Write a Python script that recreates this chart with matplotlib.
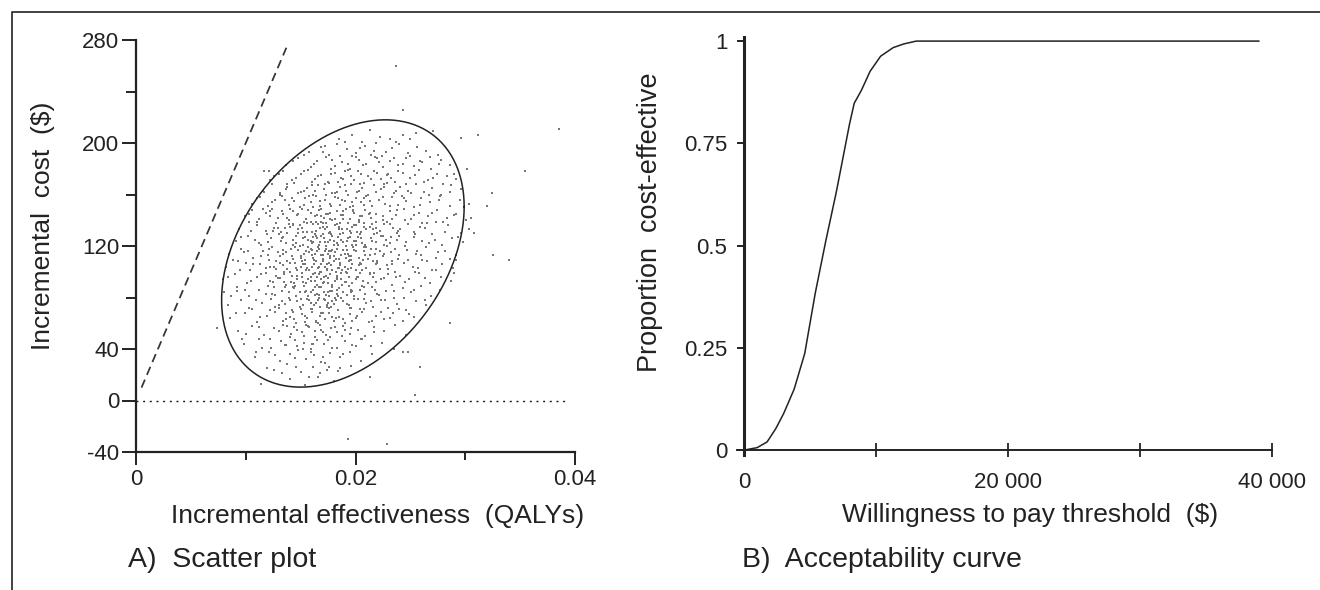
import numpy as np
import matplotlib
matplotlib.use("Agg")
import matplotlib.pyplot as plt
from matplotlib.lines import Line2D

plt.rcParams["font.family"] = ["Liberation Sans", "DejaVu Sans"]

# ---- panel A: bootstrap replicates (effect in 1/1000 QALY, cost in $) ----
cloud_pairs = [
    (18.5, 203), (19.7, 206), (21.3, 210), (22.2, 205), (24.3, 206), (25.5, 208), (20.6, 201), (23.1, 203),
    (15.8, 193), (16.9, 197), (17.6, 191), (18.3, 199), (19.2, 195), (20.0, 192), (20.9, 198), (21.7, 194),
    (22.4, 190), (23.3, 196), (24.0, 199), (24.8, 192), (25.6, 197), (26.4, 194), (27.5, 191), (19.7, 190),
    (13.7, 183), (14.8, 188), (15.9, 181), (16.5, 186), (17.3, 189), (18.1, 182), (18.8, 185), (19.5, 180),
    (20.3, 187), (21.0, 184), (21.8, 189), (22.5, 181), (23.1, 186), (23.9, 183), (24.6, 188), (25.3, 182),
    (26.1, 185), (26.9, 180), (27.8, 187), (28.6, 183), (17.8, 180), (22.0, 188),
    (12.6, 174), (13.4, 178), (14.2, 171), (15.0, 176), (15.7, 179), (16.3, 172), (16.9, 175), (17.5, 170),
    (18.1, 177), (18.7, 173), (19.3, 179), (19.9, 171), (20.5, 176), (21.1, 174), (21.7, 178), (22.3, 172),
    (22.9, 175), (23.6, 170), (24.3, 177), (25.0, 173), (25.8, 179), (26.6, 171), (27.4, 176), (28.3, 174),
    (29.2, 172), (16.0, 170), (19.0, 178), (23.0, 176),
    (11.6, 163), (12.4, 168), (13.1, 161), (13.8, 166), (14.4, 169), (15.0, 162), (15.6, 165), (16.1, 160),
    (16.6, 167), (17.1, 164), (17.6, 169), (18.1, 161), (18.6, 166), (19.1, 163), (19.6, 168), (20.1, 162),
    (20.6, 165), (21.1, 160), (21.7, 167), (22.3, 164), (22.9, 169), (23.5, 161), (24.1, 166), (24.8, 163),
    (25.5, 168), (26.2, 162), (27.0, 165), (27.8, 160), (28.7, 167), (29.6, 164), (17.9, 161), (20.4, 168),
    (22.6, 166), (15.3, 163),
    (10.6, 153), (11.3, 158), (12.0, 151), (12.7, 156), (13.3, 159), (13.9, 152), (14.4, 155), (14.9, 150),
    (15.4, 157), (15.9, 154), (16.4, 159), (16.8, 151), (17.2, 156), (17.7, 153), (18.1, 158), (18.6, 152),
    (19.0, 155), (19.5, 150), (20.0, 157), (20.5, 154), (21.0, 159), (21.5, 151), (22.1, 156), (22.7, 153),
    (23.3, 158), (23.9, 152), (24.6, 155), (25.3, 150), (26.0, 157), (26.8, 154), (27.7, 159), (28.6, 151),
    (29.5, 156), (30.3, 153), (16.1, 150), (18.4, 157), (20.8, 152), (13.6, 156), (24.2, 159), (19.7, 154),
    (9.9, 143), (10.6, 148), (11.2, 141), (11.8, 146), (12.4, 149), (12.9, 142), (13.4, 145), (13.9, 140),
    (14.3, 147), (14.7, 144), (15.1, 149), (15.5, 141), (15.9, 146), (16.3, 143), (16.7, 148), (17.1, 142),
    (17.5, 145), (17.9, 140), (18.3, 147), (18.7, 144), (19.1, 149), (19.5, 141), (19.9, 146), (20.4, 143),
    (20.9, 148), (21.4, 142), (21.9, 145), (22.5, 140), (23.1, 147), (23.7, 144), (24.4, 149), (25.1, 141),
    (25.8, 146), (26.6, 143), (27.4, 148), (28.3, 142), (29.2, 145), (30.1, 140), (14.0, 149), (16.9, 143),
    (18.9, 147), (21.2, 145), (23.3, 141), (12.2, 147), (17.7, 141), (19.8, 148),
    (9.4, 133), (24.8, 137), (13.2, 131), (18.6, 138), (21.9, 134), (11.0, 136), (16.4, 132), (27.3, 139),
    (19.7, 135), (14.8, 130), (22.6, 137), (17.2, 133), (10.3, 139), (20.5, 131), (25.9, 135), (15.6, 138),
    (18.1, 136), (12.5, 132), (23.4, 134), (29.6, 130), (16.9, 139), (19.2, 133), (13.9, 137), (21.3, 135),
    (17.7, 131), (26.5, 138), (15.1, 134), (20.0, 136), (11.8, 132), (22.9, 139), (18.9, 130), (14.3, 137),
    (24.1, 133), (17.4, 135), (20.8, 138), (16.0, 131), (28.4, 136), (12.9, 134), (19.5, 132), (15.9, 139),
    (23.8, 130), (18.3, 137), (21.6, 133), (14.0, 135), (17.0, 138), (25.3, 131), (19.9, 136), (13.6, 134),
    (22.2, 132), (16.6, 137), (20.3, 139), (30.3, 133),
    (9.1, 124), (10.2, 128), (11.4, 121), (12.3, 126), (13.0, 129), (13.7, 122), (14.3, 125), (14.9, 120),
    (15.4, 127), (15.9, 124), (16.3, 129), (16.7, 121), (17.1, 126), (17.5, 123), (17.9, 128), (18.3, 122),
    (18.7, 125), (19.1, 120), (19.5, 127), (19.9, 124), (20.4, 129), (20.9, 121), (21.4, 126), (21.9, 123),
    (22.5, 128), (23.1, 122), (23.8, 125), (24.5, 120), (25.3, 127), (26.1, 124), (27.0, 129), (27.9, 121),
    (28.8, 126), (29.8, 123), (15.2, 121), (16.9, 128), (18.0, 124), (19.3, 126), (20.6, 122), (17.3, 120),
    (14.6, 128), (21.7, 129), (12.0, 123), (18.6, 129), (16.1, 123), (19.7, 121), (22.8, 125), (17.7, 125),
    (13.4, 127), (24.0, 128), (15.7, 125), (20.2, 127), (18.9, 123), (10.8, 125), (26.7, 122), (16.5, 126),
    (8.5, 114), (9.6, 118), (10.7, 111), (11.6, 116), (12.4, 119), (13.1, 112), (13.7, 115), (14.3, 110),
    (14.8, 117), (15.3, 114), (15.7, 119), (16.1, 111), (16.5, 116), (16.9, 113), (17.3, 118), (17.7, 112),
    (18.1, 115), (18.5, 110), (18.9, 117), (19.3, 114), (19.8, 119), (20.3, 111), (20.8, 116), (21.3, 113),
    (21.9, 118), (22.5, 112), (23.2, 115), (23.9, 110), (24.7, 117), (25.5, 114), (26.4, 119), (27.3, 111),
    (28.2, 116), (29.2, 113), (15.0, 111), (16.7, 118), (17.5, 114), (18.3, 118), (19.6, 112), (17.0, 110),
    (14.1, 118), (21.0, 119), (12.0, 113), (18.7, 113), (16.3, 114), (20.0, 116), (22.2, 116), (17.9, 117),
    (13.4, 117), (23.6, 118), (15.5, 116), (19.1, 111), (18.0, 112), (10.2, 116), (26.0, 113), (16.0, 117),
    (8.2, 104), (9.3, 108), (10.4, 101), (11.3, 106), (12.1, 109), (12.8, 102), (13.4, 105), (14.0, 100),
    (14.5, 107), (15.0, 104), (15.4, 109), (15.8, 101), (16.2, 106), (16.6, 103), (17.0, 108), (17.4, 102),
    (17.8, 105), (18.2, 100), (18.6, 107), (19.0, 104), (19.5, 109), (20.0, 101), (20.5, 106), (21.0, 103),
    (21.6, 108), (22.2, 102), (22.9, 105), (23.6, 100), (24.4, 107), (25.2, 104), (26.1, 109), (27.0, 101),
    (27.9, 106), (28.9, 103), (14.7, 101), (16.4, 108), (17.2, 104), (18.0, 108), (19.3, 102), (16.8, 100),
    (13.8, 108), (20.7, 109), (11.8, 103), (18.4, 103), (16.0, 104), (19.7, 106), (21.9, 106), (17.6, 107),
    (13.1, 107), (23.3, 108), (15.2, 106), (18.8, 101), (10.0, 107), (25.7, 103),
    (7.9, 94), (9.0, 98), (10.1, 91), (11.0, 96), (11.8, 99), (12.5, 92), (13.1, 95), (13.7, 90),
    (14.2, 97), (14.7, 94), (15.1, 99), (15.5, 91), (15.9, 96), (16.3, 93), (16.7, 98), (17.1, 92),
    (17.5, 95), (17.9, 90), (18.3, 97), (18.7, 94), (19.2, 99), (19.7, 91), (20.2, 96), (20.7, 93),
    (21.3, 98), (21.9, 92), (22.6, 95), (23.3, 90), (24.1, 97), (24.9, 94), (25.8, 99), (26.8, 91),
    (27.8, 96), (28.7, 93), (14.4, 91), (16.1, 98), (16.9, 94), (17.7, 98), (19.0, 92), (16.5, 90),
    (13.5, 98), (20.4, 99), (12.2, 93), (18.1, 93), (15.7, 94), (19.4, 96), (21.6, 96), (17.3, 97),
    (12.8, 97), (23.0, 98),
    (8.0, 84), (9.2, 88), (10.3, 81), (11.2, 86), (12.0, 89), (12.7, 82), (13.3, 85), (13.9, 80),
    (14.4, 87), (14.9, 84), (15.3, 89), (15.7, 81), (16.1, 86), (16.5, 83), (16.9, 88), (17.3, 82),
    (17.7, 85), (18.1, 80), (18.5, 87), (18.9, 84), (19.4, 89), (19.9, 81), (20.4, 86), (20.9, 83),
    (21.5, 88), (22.1, 82), (22.8, 85), (23.5, 80), (24.3, 87), (25.1, 84), (26.0, 89), (26.9, 81),
    (27.7, 86), (14.6, 81), (16.3, 88), (17.1, 84), (17.9, 88), (19.2, 82), (16.7, 80), (13.6, 88),
    (20.6, 89), (12.4, 83), (18.3, 83), (15.9, 84), (19.6, 86), (21.8, 86),
    (8.4, 74), (9.6, 78), (10.6, 71), (11.5, 76), (12.3, 79), (13.0, 72), (13.6, 75), (14.2, 70),
    (14.7, 77), (15.2, 74), (15.6, 79), (16.0, 71), (16.4, 76), (16.8, 73), (17.2, 78), (17.6, 72),
    (18.0, 75), (18.4, 70), (18.9, 77), (19.4, 74), (19.9, 79), (20.4, 71), (21.0, 76), (21.6, 73),
    (22.3, 78), (23.0, 72), (23.8, 75), (24.6, 70), (25.5, 77), (26.4, 74), (15.0, 71), (16.6, 78),
    (17.4, 74), (18.2, 78), (19.6, 72), (14.0, 78), (20.8, 79), (12.7, 73), (17.8, 73), (16.2, 74),
    (8.6, 64), (9.9, 68), (11.0, 61), (11.9, 66), (12.7, 69), (13.4, 62), (14.0, 65), (14.6, 60),
    (15.1, 67), (15.6, 64), (16.0, 69), (16.4, 61), (16.8, 66), (17.2, 63), (17.6, 68), (18.0, 62),
    (18.5, 65), (19.0, 60), (19.5, 67), (20.0, 64), (20.6, 69), (21.2, 61), (21.9, 66), (22.6, 63),
    (23.4, 68), (24.3, 62), (25.3, 65), (15.4, 61), (17.0, 68), (18.2, 64), (19.7, 62), (13.7, 68),
    (16.6, 60), (14.4, 63),
    (9.3, 54), (10.6, 58), (11.7, 51), (12.6, 56), (13.4, 59), (14.1, 52), (14.7, 55), (15.3, 50),
    (15.8, 57), (16.3, 54), (16.8, 59), (17.3, 51), (17.8, 56), (18.3, 53), (18.9, 58), (19.5, 52),
    (20.2, 55), (20.9, 50), (21.7, 57), (22.6, 54), (23.6, 59), (24.6, 51), (15.5, 59), (17.0, 53),
    (14.4, 57), (19.0, 55),
    (9.8, 44), (11.2, 48), (12.3, 41), (13.2, 46), (14.0, 49), (14.7, 42), (15.3, 45), (15.9, 40),
    (16.5, 47), (17.1, 44), (17.7, 49), (18.3, 41), (19.0, 46), (19.7, 43), (20.5, 48), (21.4, 42),
    (22.4, 45), (23.5, 40), (16.0, 44), (13.7, 43),
    (10.8, 34), (12.1, 38), (13.1, 31), (14.0, 36), (14.8, 39), (15.5, 32), (16.2, 35), (16.9, 30),
    (17.7, 37), (18.6, 34), (19.5, 38), (20.5, 31), (21.5, 36), (15.9, 38),
    (12.6, 24), (13.8, 28), (15.0, 22), (16.1, 26), (17.2, 29), (18.4, 23), (19.6, 27), (16.8, 21),
    (14.0, 17), (15.4, 12), (16.6, 18), (18.0, 15),
]

cloud_pairs_b = [
    (17.2, 198), (19.0, 201), (21.9, 200), (23.7, 201), (20.4, 196), (25.0, 203),
    (14.3, 186), (15.3, 191), (16.2, 184), (17.0, 193), (17.9, 187), (18.6, 190), (19.3, 184), (20.0, 189),
    (20.7, 183), (21.4, 191), (22.1, 185), (22.8, 193), (23.5, 188), (24.3, 184), (25.0, 190), (25.9, 186),
    (26.8, 189), (27.6, 184),
    (12.2, 171), (13.0, 176), (13.8, 168), (14.6, 173), (15.3, 178), (16.0, 167), (16.6, 174), (17.2, 168),
    (17.8, 176), (18.4, 170), (19.0, 167), (19.6, 174), (20.2, 178), (20.8, 169), (21.4, 172), (22.0, 177),
    (22.6, 168), (23.2, 173), (23.9, 178), (24.6, 168), (25.4, 175), (26.2, 170), (27.1, 173), (28.0, 168),
    (29.0, 176), (18.9, 172),
    (11.0, 157), (11.7, 162), (12.4, 154), (13.1, 160), (13.7, 164), (14.2, 157), (14.8, 161), (15.3, 152),
    (15.8, 159), (16.3, 163), (16.8, 155), (17.3, 160), (17.8, 151), (18.3, 162), (18.8, 156), (19.3, 160),
    (19.8, 151), (20.3, 163), (20.8, 157), (21.3, 155), (21.9, 162), (22.5, 158), (23.1, 151), (23.7, 163),
    (24.4, 157), (25.1, 161), (25.9, 152), (26.7, 160), (27.6, 156), (28.6, 162),
    (10.3, 145), (11.0, 139), (11.6, 149), (12.2, 143), (12.8, 138), (13.3, 147), (13.8, 142), (14.3, 136),
    (14.8, 145), (15.3, 139), (15.7, 148), (16.1, 137), (16.5, 144), (16.9, 149), (17.3, 138), (17.7, 146),
    (18.1, 141), (18.5, 135), (18.9, 144), (19.3, 138), (19.8, 147), (20.3, 140), (20.8, 135), (21.3, 146),
    (21.9, 139), (22.5, 143), (23.1, 137), (23.8, 148), (24.5, 140), (25.3, 144), (26.1, 138), (27.0, 146),
    (28.0, 139), (29.0, 144),
    (9.6, 127), (10.5, 132), (11.2, 122), (11.9, 129), (12.6, 134), (13.2, 124), (13.8, 130), (14.3, 121),
    (14.8, 133), (15.2, 126), (15.6, 131), (16.0, 122), (16.4, 128), (16.8, 134), (17.2, 123), (17.6, 130),
    (18.0, 121), (18.4, 127), (18.8, 133), (19.2, 124), (19.6, 130), (20.0, 121), (20.5, 126), (21.0, 133),
    (21.5, 124), (22.0, 130), (22.6, 121), (23.2, 127), (23.9, 132), (24.6, 123), (25.4, 129), (26.3, 134),
    (27.2, 125), (28.2, 131), (29.3, 127), (17.0, 129),
    (8.8, 109), (9.8, 115), (10.7, 106), (11.4, 112), (12.1, 118), (12.8, 108), (13.4, 114), (14.0, 107),
    (14.5, 119), (15.0, 112), (15.4, 106), (15.8, 115), (16.2, 109), (16.6, 119), (17.0, 113), (17.4, 106),
    (17.8, 116), (18.2, 110), (18.6, 105), (19.0, 114), (19.4, 108), (19.9, 117), (20.4, 107), (20.9, 113),
    (21.4, 118), (22.0, 108), (22.6, 114), (23.3, 106), (24.0, 113), (24.8, 109), (25.6, 116), (26.5, 108),
    (27.5, 115), (28.6, 110), (17.2, 116), (19.6, 109),
    (8.4, 96), (9.5, 101), (10.5, 93), (11.4, 98), (12.2, 104), (12.9, 95), (13.5, 100), (14.1, 92),
    (14.6, 103), (15.1, 96), (15.5, 101), (15.9, 93), (16.3, 99), (16.7, 104), (17.1, 96), (17.5, 91),
    (17.9, 101), (18.3, 94), (18.7, 99), (19.1, 92), (19.6, 103), (20.1, 96), (20.6, 101), (21.1, 91),
    (21.7, 99), (22.3, 94), (23.0, 102), (23.7, 96), (24.5, 92), (25.4, 100), (26.3, 95), (27.3, 101),
    (16.9, 100), (18.5, 103),
    (8.7, 81), (9.9, 86), (10.9, 78), (11.8, 83), (12.6, 88), (13.3, 77), (13.9, 84), (14.5, 89),
    (15.0, 79), (15.5, 85), (15.9, 76), (16.3, 82), (16.7, 88), (17.1, 79), (17.5, 84), (17.9, 77),
    (18.3, 86), (18.7, 80), (19.2, 75), (19.7, 85), (20.2, 79), (20.8, 88), (21.4, 77), (22.0, 83),
    (22.7, 78), (23.5, 85), (24.4, 80), (25.3, 86), (26.3, 78), (17.6, 81),
    (9.1, 68), (10.3, 72), (11.3, 65), (12.2, 70), (13.0, 74), (13.7, 63), (14.3, 69), (14.9, 73),
    (15.4, 66), (15.9, 71), (16.4, 62), (16.9, 68), (17.4, 73), (17.9, 65), (18.4, 70), (18.9, 63),
    (19.5, 72), (20.1, 66), (20.8, 71), (21.5, 62), (22.3, 69), (23.1, 64), (24.0, 71), (24.9, 67),
    (10.0, 52), (11.2, 57), (12.2, 48), (13.0, 54), (13.8, 58), (14.5, 47), (15.1, 53), (15.7, 58),
    (16.3, 49), (16.9, 55), (17.5, 47), (18.1, 57), (18.8, 50), (19.6, 56), (20.6, 48), (21.7, 53),
    (11.5, 41), (12.7, 35), (13.6, 43), (14.5, 33), (15.2, 40), (16.1, 44), (17.0, 34), (17.9, 41),
    (18.9, 36), (20.0, 42),
    (13.3, 21), (14.6, 26), (15.8, 18), (17.4, 24),
]

core_pairs = [
    (15.2, 131), (16.1, 127), (17.0, 135), (17.8, 129), (18.5, 133), (19.3, 126), (20.1, 131), (14.6, 122),
    (15.9, 118), (16.8, 123), (17.6, 116), (18.4, 121), (19.2, 117), (20.0, 124), (20.8, 119), (14.2, 112),
    (15.1, 108), (16.0, 113), (16.9, 106), (17.7, 111), (18.6, 107), (19.4, 112), (20.3, 105), (21.1, 110),
    (13.8, 102), (14.7, 97), (15.6, 103), (16.5, 96), (17.4, 101), (18.3, 95), (19.1, 100), (20.0, 94),
    (14.3, 88), (15.2, 92), (16.1, 86), (17.0, 91), (17.9, 85), (18.8, 90), (19.6, 84), (15.8, 78),
    (16.7, 82), (17.5, 76), (18.4, 81), (21.5, 137), (22.3, 128), (21.8, 114), (12.9, 115), (13.3, 126),
    (16.4, 139), (18.9, 141), (20.6, 143), (17.3, 145), (22.9, 120), (15.4, 84), (13.5, 92), (21.3, 99),
    (22.0, 107), (12.6, 104), (19.9, 136), (14.9, 136),
]

outlier_pairs = [
    (23.7, 260), (24.3, 226), (38.5, 211), (31.2, 206), (29.6, 204), (27.1, 209), (35.4, 178), (32.4, 161),
    (32.0, 151), (30.5, 142), (32.5, 113), (34.0, 109), (29.2, 109), (29.0, 99), (28.6, 60), (25.9, 26),
    (24.3, 38), (24.8, 38), (25.4, 4), (19.3, -30), (22.9, -34), (21.3, 18), (11.4, 13), (11.9, 25),
    (7.4, 56), (9.2, 85), (9.7, 48), (10.9, 38), (11.7, 178), (12.1, 178), (17.6, 26), (18.6, 25),
    (30.8, 130), (30.2, 180),
]

# 95% confidence ellipse (centre, half-extents, correlation)
ellipse_center = (0.01885, 114.2)
ellipse_half_x = 0.01105
ellipse_half_y = 103.8
ellipse_corr = 0.35

# ceiling ratio line ($ per QALY) and its drawn extent
ceiling_ratio = 20000
ceiling_x = [0.0005, 0.0137]
zero_line_x = [0.0, 0.0392]

# ---- panel B: cost-effectiveness acceptability curve ----
wtp = [0, 1000, 1750, 2400, 3000, 3800, 4600, 5400, 6200, 7000, 7500, 8000,
       8350, 8900, 9550, 10350, 11300, 12100, 13050, 39000]
prop_ce = [0.0, 0.006, 0.02, 0.052, 0.089, 0.149, 0.236, 0.384, 0.512, 0.632, 0.715, 0.798,
           0.848, 0.88, 0.926, 0.963, 0.984, 0.993, 1.0, 1.0]

W, H = 1320, 590
INK = "#222222"

all_pts = np.array(cloud_pairs + cloud_pairs_b + core_pairs + outlier_pairs, dtype=float)
effect = all_pts[:, 0] / 1000.0
cost = all_pts[:, 1]

fig = plt.figure(figsize=(W / 100, H / 100), dpi=100)
fig.patch.set_facecolor("white")

# ---------------- A) scatter plot ----------------
ax1 = fig.add_axes([136 / W, 1 - 452 / H, 439 / W, 412 / H])
ax1.set_xlim(0, 0.04)
ax1.set_ylim(-40, 280)

ax1.scatter(effect, cost, s=3.3, marker="s", c="#777777", linewidths=0, zorder=2)

t = np.linspace(0, 2 * np.pi, 400)
phi = np.arccos(ellipse_corr)
ex = ellipse_center[0] + ellipse_half_x * np.cos(t)
ey = ellipse_center[1] + ellipse_half_y * np.cos(t - phi)
ax1.plot(ex, ey, color=INK, lw=1.1, zorder=3)

cx = np.array(ceiling_x)
ax1.plot(cx, ceiling_ratio * cx, color="#333333", lw=1.25,
         linestyle=(0, (5.0, 3.0)), zorder=3)
ax1.plot(zero_line_x, [0, 0], color="#111111", lw=1.0, linestyle=(0, (1.4, 3.4)), zorder=1)

for s in ["top", "right"]:
    ax1.spines[s].set_visible(False)
for s in ["left", "bottom"]:
    ax1.spines[s].set_color(INK)
    ax1.spines[s].set_linewidth(1.6)

ax1.set_yticks([-40, 0, 40, 120, 200, 280])
ax1.set_yticklabels(["-40", "0", "40", "120", "200", "280"])
ax1.set_yticks([80, 160, 240], minor=True)
ax1.set_xticks([0, 0.02, 0.04])
ax1.set_xticklabels(["0", "0.02", "0.04"])
ax1.set_xticks([0.01, 0.03], minor=True)
ax1.tick_params(axis="y", which="major", direction="out", length=10, width=1.4,
                labelsize=16, pad=2, colors=INK)
ax1.tick_params(axis="y", which="minor", direction="out", length=7, width=1.4, colors=INK)
ax1.tick_params(axis="x", which="major", direction="out", length=9.5, width=1.4,
                labelsize=16, pad=3, colors=INK)
ax1.tick_params(axis="x", which="minor", direction="out", length=5.5, width=1.4, colors=INK)

# ---------------- B) acceptability curve ----------------
ax2 = fig.add_axes([737 / W, 1 - 455 / H, 535 / W, 418 / H])
ax2.set_xlim(-530, 40000)
ax2.set_ylim(-0.012, 1.01)
ax2.plot(wtp, prop_ce, color=INK, lw=1.1)

for s in ["top", "right"]:
    ax2.spines[s].set_visible(False)
ax2.spines["left"].set_position(("data", 0))
ax2.spines["bottom"].set_position(("data", 0))
ax2.spines["left"].set_linewidth(2.2)
ax2.spines["bottom"].set_linewidth(1.4)
for s in ["left", "bottom"]:
    ax2.spines[s].set_color(INK)

ax2.set_yticks([0, 0.25, 0.5, 0.75, 1])
ax2.set_yticklabels(["0", "0.25", "0.5", "0.75", "1"])
ax2.set_xticks([0, 10000, 20000, 30000, 40000])
ax2.set_xticklabels(["0", "", "20 000", "", "40 000"])
ax2.tick_params(axis="y", direction="out", length=5, width=1.4, labelsize=16, pad=7, colors=INK)
ax2.tick_params(axis="x", direction="inout", length=9.5, width=1.3, labelsize=16, pad=11, colors=INK)

# ---------------- labels ----------------
fig.text(43 / W, 1 - 226 / H, "Incremental  cost  ($)", rotation=90, ha="center",
         va="center", fontsize=19, color=INK)
fig.text(378 / W, 1 - 516 / H, "Incremental effectiveness  (QALYs)", ha="center",
         va="center", fontsize=19, color=INK)
fig.text(128 / W, 1 - 560 / H, "A)  Scatter plot", ha="left", va="center",
         fontsize=20.5, color=INK)
fig.text(650 / W, 1 - 222 / H, "Proportion  cost-effective", rotation=90, ha="center",
         va="center", fontsize=19.5, color=INK)
fig.text(1030 / W, 1 - 515 / H, "Willingness to pay threshold  ($)", ha="center",
         va="center", fontsize=19, color=INK)
fig.text(742 / W, 1 - 560 / H, "B)  Acceptability curve", ha="left", va="center",
         fontsize=20.5, color=INK)

# frame line along top and left edges
fig.add_artist(Line2D([12 / W, 12 / W, 1.0], [0.0, 1 - 12 / H, 1 - 12 / H],
                      transform=fig.transFigure, color=INK, lw=1.2))

fig.savefig("out.png", dpi=100, facecolor="white")
plt.close(fig)
